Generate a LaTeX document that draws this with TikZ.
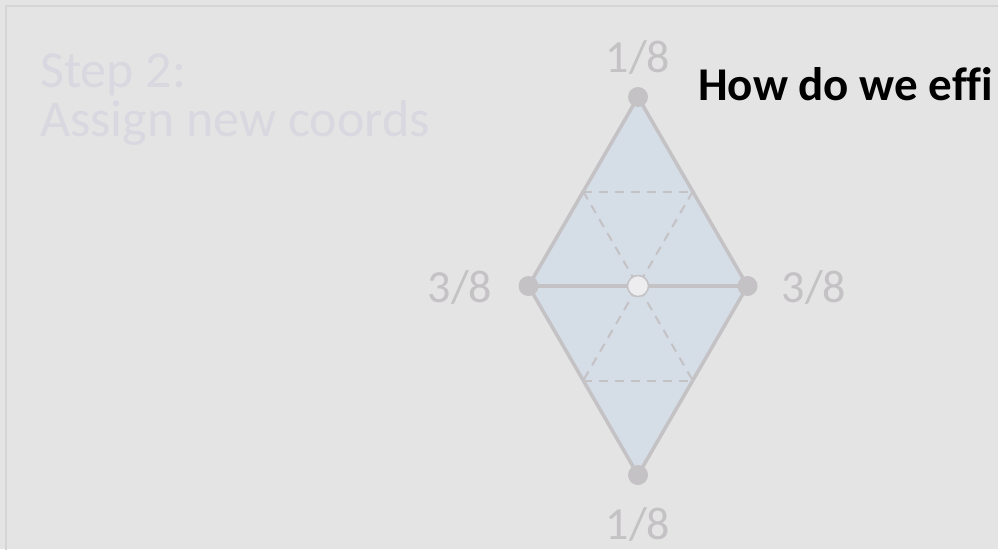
\documentclass[tikz,border=0pt]{standalone}
\usepackage{fontspec}
\setmainfont{Carlito}[Ligatures=CommonOff]
\usepackage{xcolor}
\usetikzlibrary{positioning, calc}

\definecolor{fond}{HTML}{E4E4E4}
\definecolor{cadre}{HTML}{D5D5D5}
\definecolor{trait}{HTML}{C4C2C4}
\definecolor{bleu}{HTML}{D5DDE6}
\definecolor{pale}{HTML}{D9D7DF}
\definecolor{centre}{HTML}{EDECEE}

\tikzset{
    arete/.style={trait, line width=3.5pt, line join=round},
    pointille/.style={trait, line width=2pt, dash pattern=on 9pt off 7pt},
    sommet/.style={circle, fill=trait, inner sep=0pt, minimum size=20pt},
    etiq/.style={trait, font=\fontsize{46}{54}\selectfont, inner sep=0pt, anchor=base},
    titre/.style={pale, font=\fontsize{52}{62}\selectfont, inner sep=0pt, anchor=base west}
}

\begin{document}
\begin{tikzpicture}[x=1pt, y=-1pt]
    \def\cx{638}   % centre du losange
    \def\cy{286}
    \def\a{109.5}  % demi-largeur
    \def\h{189}    % demi-hauteur

    \useasboundingbox (0,0) rectangle (998,549);
    \clip (0,0) rectangle (998,549);
    \fill[fond] (0,0) rectangle (998,549);
    \draw[cadre, line width=2pt] (5.5,5.5) rectangle (1010,560);

    % Sommets
    \coordinate (H) at (\cx,\cy-\h);
    \coordinate (B) at (\cx,\cy+\h);
    \coordinate (G) at (\cx-\a,\cy);
    \coordinate (D) at (\cx+\a,\cy);
    \coordinate (C) at (\cx,\cy);

    % Milieux des cotes
    \coordinate (HG) at ($(H)!0.5!(G)$);
    \coordinate (HD) at ($(H)!0.5!(D)$);
    \coordinate (BG) at ($(B)!0.5!(G)$);
    \coordinate (BD) at ($(B)!0.5!(D)$);

    \fill[bleu] (H) -- (G) -- (B) -- (D) -- cycle;

    % Pointilles
    \draw[pointille] (HG) -- (HD);
    \draw[pointille] (BG) -- (BD);
    \draw[pointille] (HG) -- (BD);
    \draw[pointille] (HD) -- (BG);

    \draw[arete] (H) -- (G) -- (B) -- (D) -- cycle;
    \draw[arete] (G) -- (D);

    \foreach \p in {H, B, G, D}{
        \node[sommet] (s\p) at (\p) {};
    }
    \node[circle, fill=centre, draw=trait, line width=1.5pt, inner sep=0pt, minimum size=21pt] (sC) at (C) {};

    % Poids
    \node[etiq] (lH) at (\cx,72) {1/8};
    \node[etiq] (lB) at (\cx,539) {1/8};
    \node[etiq] (lG) at (460,302) {3/8};
    \node[etiq] (lD) at (814,302) {3/8};

    \node[titre] (t1) at (40,87) {Step 2:};
    \node[titre] (t2) at (40,136) {Assign new coords};
    \node[font=\fontsize{47}{55}\selectfont\bfseries, inner sep=0pt, anchor=base west] (q) at (698,100) {How do we effi};
\end{tikzpicture}
\end{document}
